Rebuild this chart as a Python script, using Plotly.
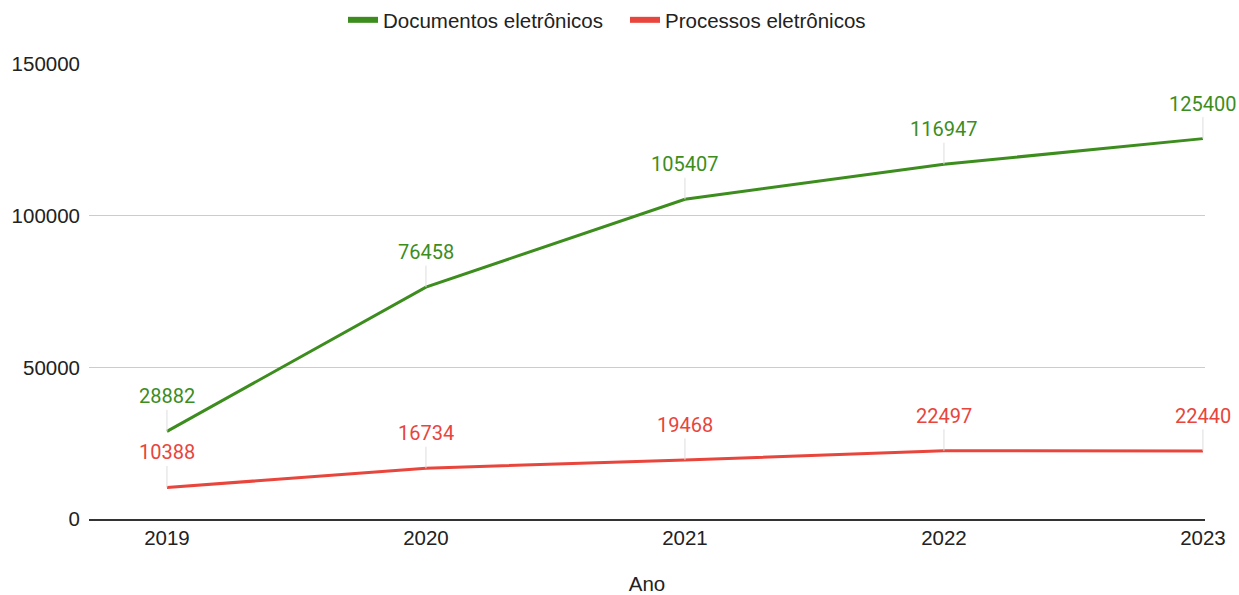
import plotly.graph_objects as go

years = ["2019", "2020", "2021", "2022", "2023"]
documentos = [28882, 76458, 105407, 116947, 125400]
processos = [10388, 16734, 19468, 22497, 22440]
y_ticks = [0, 50000, 100000, 150000]

GREEN = "#3c8d1e"
RED = "#e8453c"
xpos = list(range(len(years)))
FS = 20.5

fig = go.Figure()
for name, series, col in (("Documentos eletrônicos", documentos, GREEN),
                          ("Processos eletrônicos", processos, RED)):
    fig.add_trace(go.Scatter(x=xpos, y=series, mode="lines", name=name, showlegend=False,
                             line=dict(color=col, width=3), hoverinfo="skip", cliponaxis=False))
    fig.add_trace(go.Scatter(x=[None], y=[None], mode="lines", name=name,
                             line=dict(color=col, width=6), hoverinfo="skip"))
    for xv, yv in zip(xpos, series):
        fig.add_annotation(x=xv, y=yv, text=str(yv), showarrow=True, arrowhead=0,
                           arrowwidth=1, arrowcolor="#dddddd", ax=0, ay=-35,
                           axref="pixel", ayref="pixel",
                           font=dict(family="Roboto", size=20, color=col),
                           standoff=0, startstandoff=0)

fig.update_layout(
    width=1239, height=595,
    margin=dict(l=89, r=34, t=64, b=76),
    paper_bgcolor="white", plot_bgcolor="white",
    font=dict(family="Liberation Sans, Arial", size=FS, color="#222222"),
    showlegend=True,
    legend=dict(orientation="h", x=0.2276, xanchor="left", y=1.0, yref="container",
                yanchor="top", font=dict(size=FS, color="#222222"), itemwidth=30,
                entrywidth=237, tracegroupgap=0),
    xaxis=dict(range=[-0.301, 4.008], tickvals=xpos, ticktext=years, showgrid=False,
               showline=True, linecolor="#333333", linewidth=1.5, zeroline=False,
               automargin=False,
               tickfont=dict(size=FS, color="#222222"),
               title=dict(text="Ano", font=dict(size=FS, color="#222222"), standoff=34)),
    yaxis=dict(range=[0, 150000], tickvals=y_ticks, ticktext=[str(v) for v in y_ticks],
               showgrid=True, gridcolor="#cccccc", gridwidth=1, zeroline=False,
               automargin=False,
               tickfont=dict(size=FS, color="#222222"), ticklabelstandoff=8),
)

fig.write_html("out.html", config={"displayModeBar": False},
               post_script="document.body.style.margin='0';")
